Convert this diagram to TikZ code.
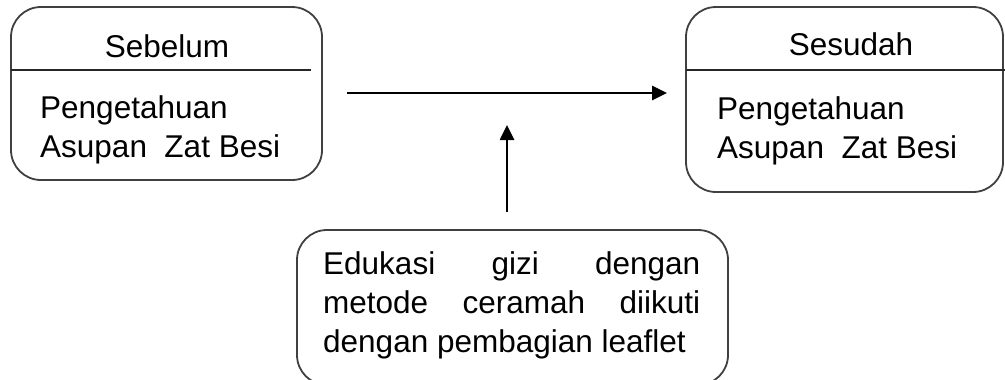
\documentclass[tikz,border=0pt]{standalone}
\usepackage{fontspec}
\setmainfont{Liberation Sans}
\usetikzlibrary{arrows.meta}
\tikzset{
  box/.style={draw=black!75, line width=1.8pt, rounded corners=30pt, inner sep=0pt},
  divider/.style={draw=black!85, line width=1.3pt},
  arr/.style={draw=black, line width=2.6pt, -{Triangle[length=15pt,width=14pt]}},
  txt/.style={font=\fontsize{31.5}{39}\selectfont, inner sep=0pt},
}
\begin{document}
\begin{tikzpicture}[x=1pt,y=-1pt]
\useasboundingbox (0,0) rectangle (1005,380);
\clip (0,0) rectangle (1005,380);
% boxes
\node[box, minimum width=311pt, minimum height=173pt] (before) at (166.5,93.5) {};
\node[box, minimum width=317pt, minimum height=185pt] (after) at (844.5,99.5) {};
\node[box, minimum width=431pt, minimum height=155pt] (edu) at (512.5,307.5) {};
% dividers
\coordinate (dl) at (11,70);
\coordinate (dr) at (311,70);
\draw[divider] (dl) -- (dr);
\coordinate (el) at (686,70);
\coordinate (er) at (1005,70);
\draw[divider] (el) -- (er);
% titles
\node[txt, anchor=base] (t1) at (167,57) {Sebelum};
\node[txt, anchor=base] (t2) at (851,56) {Sesudah};
% bodies (base anchor = baseline of the last line)
\node[txt, anchor=base west, align=left] (b1) at (40,157) {Pengetahuan\\Asupan\ \ Zat Besi};
\node[txt, anchor=base west, align=left] (b2) at (717,158) {Pengetahuan\\Asupan\ \ Zat Besi};
% justified text: base anchor = baseline of the first line
\node[txt, anchor=base west, text width=377pt, align=justify] (b3) at (323,274)
  {Edukasi gizi dengan metode ceramah diikuti dengan pembagian leaflet};
% arrows
\coordinate (hs) at (347,93);
\coordinate (he) at (667,93);
\draw[arr] (hs) -- (he);
\coordinate (tip) at (507,125);
\draw[arr] (edu.north -| tip) ++(0,-17) -- (tip);
\end{tikzpicture}
\end{document}
